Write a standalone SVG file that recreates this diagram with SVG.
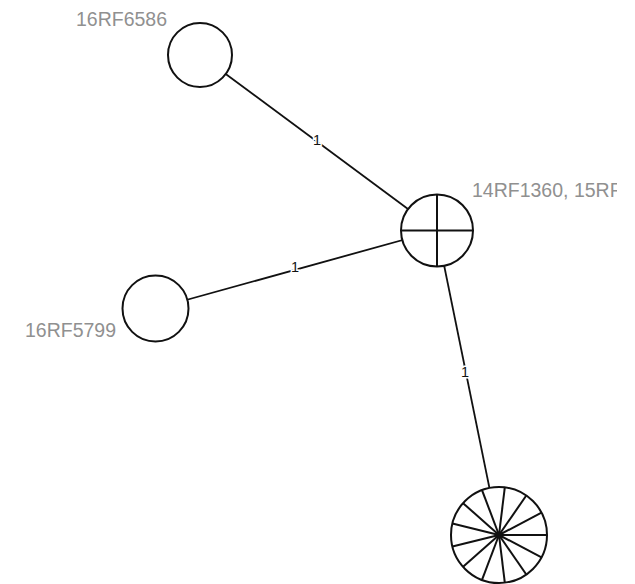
<svg xmlns="http://www.w3.org/2000/svg" width="635" height="584" viewBox="0 0 635 584">
<style>
.edge{stroke:#111;stroke-width:1.8;fill:none}
.node{fill:#fff;stroke:#111;stroke-width:2}
.sp{stroke:#111;stroke-width:2}
.lbl{font-family:"Liberation Sans",Arial,sans-serif;font-size:19.5px;fill:#909090}
.el{font-family:"Liberation Sans",Arial,sans-serif;font-size:14.5px;fill:#111;text-anchor:middle;stroke:#fff;stroke-width:3;paint-order:stroke}
</style>
<defs><clipPath id="clipR"><rect x="0" y="0" width="617" height="584"/></clipPath></defs>
<rect width="635" height="584" fill="#fff"/>
<g id="connectors">
<line class="edge" x1="200" y1="55" x2="437" y2="230.5"/>
<line class="edge" x1="155.5" y1="308.5" x2="437" y2="230.5"/>
<line class="edge" x1="437" y1="230.5" x2="499" y2="535"/>
<text class="el" x="317" y="145">1</text>
<text class="el" x="295" y="272">1</text>
<text class="el" x="465" y="377">1</text>
</g>
<g id="n16RF6586">
<circle class="node" cx="200" cy="55" r="32"/>
<text class="lbl" x="76" y="26">16RF6586</text>
</g>
<g id="n16RF5799">
<circle class="node" cx="155.5" cy="308.5" r="33"/>
<text class="lbl" x="25" y="337">16RF5799</text>
</g>
<g id="nHub">
<circle class="node" cx="437" cy="230.5" r="36"/>
<line class="sp" x1="401" y1="230.5" x2="473" y2="230.5"/>
<line class="sp" x1="437" y1="194.5" x2="437" y2="266.5"/>
<text class="lbl" x="472" y="197" clip-path="url(#clipR)">14RF1360, 15RF</text>
</g>
<g id="nBottom">
<circle class="node" cx="499" cy="535" r="48"/>
<g class="sp">
<line x1="499" y1="535" x2="547" y2="535"/>
<line x1="499" y1="535" x2="541.5" y2="557.3"/>
<line x1="499" y1="535" x2="526.3" y2="574.5"/>
<line x1="499" y1="535" x2="504.8" y2="582.6"/>
<line x1="499" y1="535" x2="482" y2="579.9"/>
<line x1="499" y1="535" x2="463.1" y2="566.8"/>
<line x1="499" y1="535" x2="452.4" y2="546.5"/>
<line x1="499" y1="535" x2="452.4" y2="523.5"/>
<line x1="499" y1="535" x2="463.1" y2="503.2"/>
<line x1="499" y1="535" x2="482" y2="490.1"/>
<line x1="499" y1="535" x2="504.8" y2="487.4"/>
<line x1="499" y1="535" x2="526.3" y2="495.5"/>
<line x1="499" y1="535" x2="541.5" y2="512.7"/>
</g>
<circle cx="499" cy="535" r="3.5" fill="#111"/>
</g>
</svg>
